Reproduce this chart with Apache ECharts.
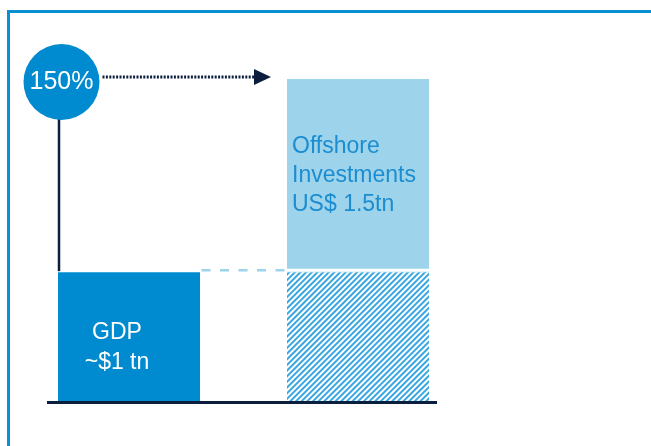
<!DOCTYPE html>
<html>
<head>
<meta charset="utf-8">
<script src="https://cdn.jsdelivr.net/npm/echarts@6/dist/echarts.min.js"></script>
<style>
  html, body { margin: 0; padding: 0; background: #ffffff; }
  #chart { width: 651px; height: 446px; }
</style>
</head>
<body>
<div id="chart"></div>
<script>
// Values in US$ trillion
const categories = ['GDP', 'Offshore'];
const gdpValues = [1, null];            // economy size
const gdpEquivalent = [null, 1];        // part of offshore holdings equal to GDP (hatched)
const offshoreValues = [null, 1.5];     // offshore investments
const gdpLabel = 'GDP\n~${c} tn';
const offshoreLabel = 'Offshore\nInvestments\nUS$ {c}tn';

const NAVY = '#0c1e3e';
const BLUE = '#008bd0';
const LIGHT = '#9dd3eb';
const TEXT_BLUE = '#1b8dd0';
const FONT = '"Liberation Sans", Arial, sans-serif';
const BAR_W = 142;

const chart = echarts.init(document.getElementById('chart'), null, { renderer: 'canvas' });

chart.setOption({
  animation: false,
  textStyle: { fontFamily: FONT },
  grid: { left: 14.5, right: 178.5, top: 79, bottom: 45 },
  xAxis: {
    type: 'category',
    data: categories,
    axisLine: { show: false },
    axisTick: { show: false },
    axisLabel: { show: false }
  },
  yAxis: {
    type: 'value',
    min: 0,
    max: 2.5,
    show: false,
    splitLine: { show: false }
  },
  series: [
    {
      name: 'GDP',
      type: 'bar',
      stack: 'total',
      barWidth: BAR_W,
      data: gdpValues,
      itemStyle: { color: BLUE },
      label: {
        show: true,
        position: 'inside',
        offset: [-12, 11],
        formatter: gdpLabel,
        color: '#ffffff',
        fontSize: 23,
        lineHeight: 30,
        fontFamily: FONT
      }
    },
    {
      name: 'GDP equivalent',
      type: 'bar',
      stack: 'total',
      barWidth: BAR_W,
      data: gdpEquivalent,
      itemStyle: {
        color: '#ffffff',
        decal: {
          symbol: 'rect',
          symbolSize: 1,
          dashArrayX: [1, 0],
          dashArrayY: [2, 2],
          rotation: -Math.PI / 4,
          color: '#3aa6e0'
        }
      }
    },
    {
      name: 'Offshore investments',
      type: 'bar',
      stack: 'total',
      barWidth: BAR_W,
      data: offshoreValues,
      itemStyle: { color: LIGHT },
      label: {
        show: true,
        position: 'insideLeft',
        distance: 5,
        formatter: offshoreLabel,
        color: TEXT_BLUE,
        fontSize: 23,
        lineHeight: 29,
        align: 'left',
        fontFamily: FONT
      }
    }
  ]
});

// Annotations placed from the bars' pixel positions
function annotate() {
  const gdp = chart.convertToPixel({ gridIndex: 0 }, [categories[0], gdpValues[0]]);
  const off = chart.convertToPixel({ gridIndex: 0 }, [categories[1], gdpEquivalent[1]]);
  const zero = chart.convertToPixel({ gridIndex: 0 }, [categories[0], 0]);
  const gdpLeft = gdp[0] - BAR_W / 2;
  const gdpRight = gdp[0] + BAR_W / 2;
  const offLeft = off[0] - BAR_W / 2;
  const offRight = off[0] + BAR_W / 2;
  const ratio = Math.round(offshoreValues[1] / gdpValues[0] * 100) + '%';

  const cx = gdpLeft + 3.5, cy = 82, r = 38;
  const ay = 77;

  chart.setOption({
    graphic: [
      // frame
      { type: 'rect', silent: true, z: 0,
        shape: { x: 8.5, y: 11.5, width: 700, height: 500 },
        style: { fill: null, stroke: '#0a90d2', lineWidth: 3 } },
      // baseline
      { type: 'line', silent: true, z: 10,
        shape: { x1: gdpLeft - 11, y1: zero[1] + 1.5, x2: offRight + 8, y2: zero[1] + 1.5 },
        style: { stroke: NAVY, lineWidth: 3 } },
      // separation between the offshore block and its GDP-sized share
      { type: 'line', silent: true, z: 10,
        shape: { x1: offLeft, y1: off[1] - 2, x2: offRight, y2: off[1] - 2 },
        style: { stroke: '#ffffff', lineWidth: 3 } },
      // dashed guide at GDP level
      { type: 'line', silent: true, z: 10,
        shape: { x1: gdpRight + 1.5, y1: gdp[1] - 2, x2: offLeft - 1, y2: gdp[1] - 2 },
        style: { stroke: LIGHT, lineWidth: 2.5, lineDash: [9, 9.5] } },
      // vertical connector from circle down to GDP bar
      { type: 'line', silent: true, z: 10,
        shape: { x1: gdpLeft + 1, y1: cy + r - 2, x2: gdpLeft + 1, y2: gdp[1] - 1 },
        style: { stroke: NAVY, lineWidth: 2.5 } },
      // dotted arrow
      { type: 'line', silent: true, z: 10,
        shape: { x1: cx + r + 3, y1: ay, x2: offLeft - 33, y2: ay },
        style: { stroke: NAVY, lineWidth: 3, lineDash: [2, 1.4] } },
      { type: 'polygon', silent: true, z: 10,
        shape: { points: [[offLeft - 33, ay - 8], [offLeft - 16, ay], [offLeft - 33, ay + 8]] },
        style: { fill: NAVY } },
      // ratio bubble
      { type: 'circle', silent: true, z: 11,
        shape: { cx: cx, cy: cy, r: r },
        style: { fill: BLUE } },
      { type: 'text', silent: true, z: 12,
        x: cx, y: cy,
        style: { text: ratio, fill: '#ffffff', font: '25px ' + FONT,
                 align: 'center', verticalAlign: 'middle' } }
    ]
  });
}
annotate();
</script>
</body>
</html>
